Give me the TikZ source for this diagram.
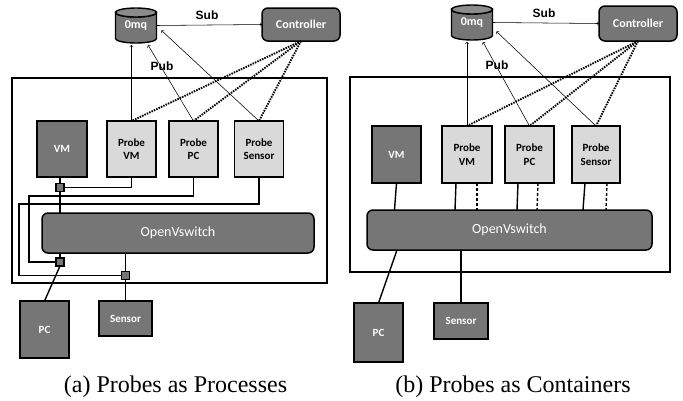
\documentclass[tikz,border=0pt]{standalone}
\usepackage{fontspec}
\setmainfont{Liberation Serif}
\newfontfamily\carl{Carlito}
\newfontfamily\arialf{Liberation Sans}
\usetikzlibrary{calc}
\definecolor{dkg}{RGB}{118,118,118}
\definecolor{ltg}{RGB}{217,217,217}
\newcommand{\mycyl}[2]{%
  \filldraw[fill=dkg,draw=black,line width=1.4pt]
    (#1-20.5,#2-13) -- (#1-20.5,#2+13)
    arc[start angle=180,end angle=0,x radius=20.5,y radius=4.5]
    -- (#1+20.5,#2-13)
    arc[start angle=0,end angle=180,x radius=20.5,y radius=4.5] -- cycle;
  \filldraw[fill=dkg!85!white,draw=black,line width=1.4pt] (#1,#2-13) ellipse[x radius=20.5,y radius=4.5];
}
\begin{document}
\begin{tikzpicture}[x=1pt,y=-1pt,
  every node/.style={inner sep=0pt,outer sep=0pt},
  lbl/.style={font=\carl\bfseries\fontsize{11}{13.5}\selectfont,align=center},
  dkbox/.style={lbl,draw=black,line width=1.5pt,fill=dkg,text=white},
  ltbox/.style={lbl,draw=black,line width=1.5pt,fill=ltg,text=black},
  ovsbox/.style={draw=black,line width=1.5pt,fill=dkg,text=white,rounded corners=6pt,font=\carl\fontsize{14}{16}\selectfont},
  ctlbox/.style={dkbox,rounded corners=6pt,font=\carl\bfseries\fontsize{12}{14}\selectfont},
  sqbox/.style={draw=black,line width=1.2pt,fill=dkg,minimum width=8pt,minimum height=8pt},
  outer/.style={draw=black,line width=1.4pt},
  wire/.style={line width=1.4pt},
  arr/.style={->,line width=0.55pt},
  dotl/.style={line width=1.9pt,dash pattern=on 1.5pt off 1.1pt},
  pubsub/.style={font=\arialf\bfseries\fontsize{12}{14}\selectfont},
  captxt/.style={font=\fontsize{24}{28}\selectfont}
]
\useasboundingbox (0,0) rectangle (683,400);

% ================= (a) =================
\draw[outer] (12,78) rectangle (327,283);
\mycyl{136}{25.5}
\node[lbl,text=white,minimum width=41pt,minimum height=35pt,font=\carl\bfseries\fontsize{12}{14}\selectfont] (mq) at (136,25.5) {\raisebox{-3pt}{0mq}};
\node[ctlbox,minimum width=78pt,minimum height=33pt] (ctl) at (301,24.5) {Controller};

\node[dkbox,minimum width=50pt,minimum height=56pt] (vm) at (62,149) {VM};
\node[ltbox,minimum width=49pt,minimum height=56pt] (pvm) at (131.5,149) {Probe\\VM};
\node[ltbox,minimum width=49pt,minimum height=56pt] (ppc) at (193.5,149) {Probe\\PC};
\node[ltbox,minimum width=49pt,minimum height=56pt] (psen) at (259,149) {Probe\\Sensor};

\node[ovsbox,minimum width=272pt,minimum height=40pt] (ovs) at (178,233) {OpenVswitch};

\node[sqbox] (sq1) at (60,187.5) {};
\node[sqbox] (sq2) at (60,262) {};
\node[sqbox] (sq3) at (125.5,275.5) {};

\node[dkbox,minimum width=49pt,minimum height=57pt] (pc) at (44.5,329.5) {PC};
\node[dkbox,minimum width=53pt,minimum height=35pt] (sen) at (125.5,318.5) {Sensor};

% wires
\draw[wire] (sq1.east) -| (pvm.south);
\draw[wire] (ppc.south) |- (29,196) |- (sq2.west);
\draw[wire] (psen.south) |- (19,204) |- (sq3.west);
\draw[wire] (sq1.north) -- (sq1.north |- vm.south);
\draw[wire] (sq1.south) -- (sq1.south |- ovs.north);
\draw[wire] (sq2.north) -- (sq2.north |- ovs.south);
\draw[wire] (sq2.south) -- (pc.north);
\draw[wire] (sq3.north) -- (sq3.north |- ovs.south);
\draw[wire] (sq3.south) -- (sen.north);

% pub / sub
\draw[arr,shorten >=2pt] (pvm.north) -- (pvm.north |- mq.south);
\draw[arr] (ppc.north) -- ($(mq.south)+(12,2)$);
\draw[arr] (psen.north) -- ($(mq.east)+(5,5)$);
\draw[arr] (mq.east) -- (ctl.west);
\node[pubsub] (sub1) at (207,15) {Sub};
\node[pubsub] (pub1) at (162,66) {Pub};
\draw[dotl] (ctl.south) -- (pvm.north);
\draw[dotl] (ctl.south) -- (ppc.north);
\draw[dotl] (ctl.south) -- (psen.north);

\node[captxt] (capa) at (175.5,387) {(a) Probes as Processes};

% ================= (b) =================
\draw[outer] (350,77) rectangle (670,272);
\mycyl{472}{22.5}
\node[lbl,text=white,minimum width=41pt,minimum height=35pt,font=\carl\bfseries\fontsize{12}{14}\selectfont] (mqb) at (472,22.5) {\raisebox{-3pt}{0mq}};
\node[ctlbox,minimum width=78pt,minimum height=35pt] (ctlb) at (638,23.5) {Controller};

\node[dkbox,minimum width=49pt,minimum height=57pt] (vmb) at (396.5,154.5) {VM};
\node[ltbox,minimum width=50pt,minimum height=57pt] (pvmb) at (467,154.5) {Probe\\VM};
\node[ltbox,minimum width=49pt,minimum height=57pt] (ppcb) at (529.5,154.5) {Probe\\PC};
\node[ltbox,minimum width=48pt,minimum height=57pt] (psenb) at (596,154.5) {Probe\\Sensor};

\node[ovsbox,minimum width=285pt,minimum height=40pt] (ovsb) at (509.5,230) {OpenVswitch};

\node[dkbox,minimum width=49pt,minimum height=59pt] (pcb) at (378.5,332.5) {PC};
\node[dkbox,minimum width=54pt,minimum height=36pt] (senb) at (461,321) {Sensor};

% wires
\draw[wire] (vmb.south) -- ($(vmb.south |- ovsb.north)+(-2,0)$);
\draw[wire] ($(pvmb.south)+(-11,0)$) -- ($(pvmb.south |- ovsb.north)+(-12,0)$);
\draw[wire,dash pattern=on 3pt off 2pt] ($(pvmb.south)+(10,0)$) -- ($(pvmb.south |- ovsb.north)+(10,0)$);
\draw[wire] ($(ppcb.south)+(-11.5,0)$) -- ($(ppcb.south |- ovsb.north)+(-12.5,0)$);
\draw[wire,dash pattern=on 3pt off 2pt] ($(ppcb.south)+(8.5,0)$) -- ($(ppcb.south |- ovsb.north)+(7.5,0)$);
\draw[wire] ($(psenb.south)+(-11,0)$) -- ($(psenb.south |- ovsb.north)+(-13,0)$);
\draw[wire,dash pattern=on 3pt off 2pt] ($(psenb.south)+(11,0)$) -- ($(psenb.south |- ovsb.north)+(10,0)$);
\draw[wire] ($(ovsb.south west)+(30,0)$) -- (pcb.north);
\draw[wire] (senb.north) -- (senb.north |- ovsb.south);

% pub / sub
\draw[arr,shorten >=2pt] (pvmb.north) -- (pvmb.north |- mqb.south);
\draw[arr] (ppcb.north) -- ($(mqb.south)+(11,2)$);
\draw[arr] (psenb.north) -- ($(mqb.east)+(4,9)$);
\draw[arr] (mqb.east) -- (ctlb.west);
\node[pubsub] (sub2) at (544,13) {Sub};
\node[pubsub] (pub2) at (497,65) {Pub};
\draw[dotl] (ctlb.south) -- (pvmb.north);
\draw[dotl] (ctlb.south) -- (ppcb.north);
\draw[dotl] (ctlb.south) -- (psenb.north);

\node[captxt] (capb) at (513,387) {(b) Probes as Containers};
\end{tikzpicture}
\end{document}
